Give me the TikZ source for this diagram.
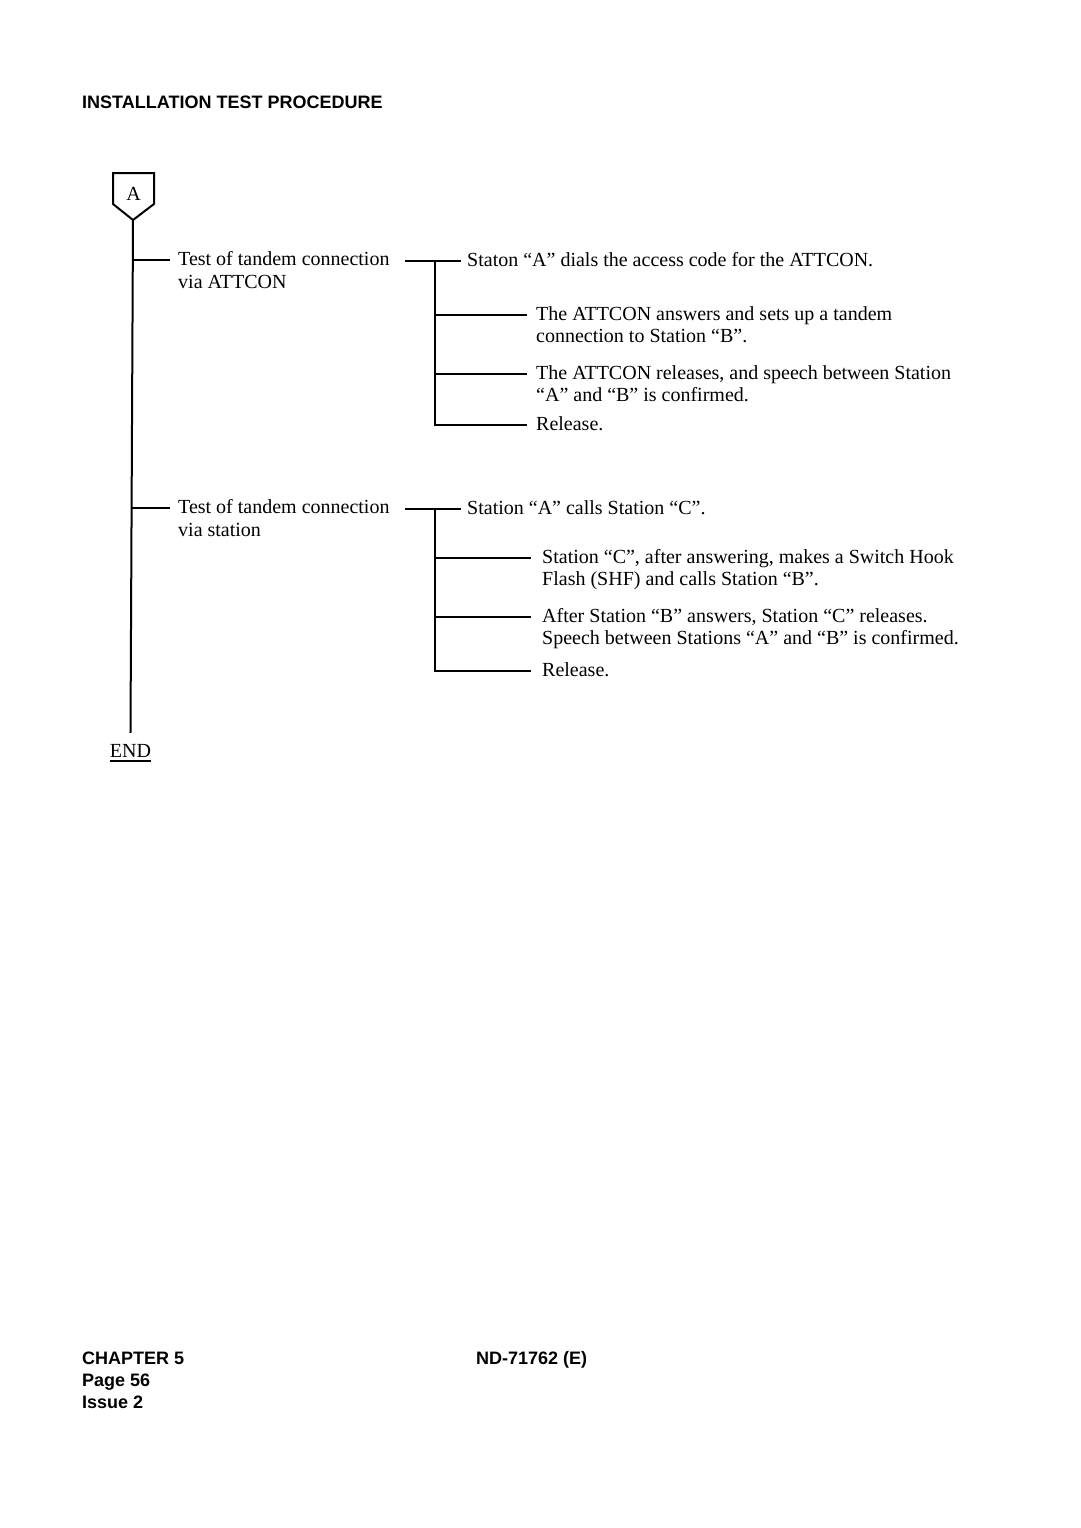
\documentclass[tikz,border=0pt]{standalone}
\usepackage{fontspec}
\setmainfont{Liberation Serif}
\newfontfamily\headfont{Liberation Sans}
\begin{document}
\begin{tikzpicture}[x=1pt,y=-1pt,
  conn/.style={line width=2pt, line cap=rect},
  txt/.style={inner ysep=0pt, inner xsep=0pt, text height=14pt, text depth=3pt, font=\fontsize{20}{23}\selectfont},
  hd/.style={inner sep=0pt, anchor=base west, font=\headfont\bfseries\fontsize{18}{21}\selectfont}]
\useasboundingbox (0,0) rectangle (1080,1528);
% header and footer
\node[hd] (title) at (82,108) {INSTALLATION TEST PROCEDURE};
\node[hd] (chap) at (82,1364) {CHAPTER 5};
\node[hd] (page) at (82,1386) {Page 56};
\node[hd] (issue) at (82,1408) {Issue 2};
\node[hd] (docno) at (476,1364) {ND-71762 (E)};
% start marker
\draw[line width=2pt, line join=miter] (113,173) -- (154,173) -- (154,204) -- (133,220) -- (113,204) -- cycle;
\node[txt, anchor=base] (A) at (133.5,200) {A};
\coordinate (tip) at (133,220);
\node[txt, anchor=base] (END) at (130.5,757) {END};
\draw[line width=1.5pt] ([yshift=-4pt]END.base west) -- ([yshift=-4pt]END.base east);
\draw[conn] (tip) -- ([yshift=11pt]END.north);
% branch 1
\coordinate (m1) at (133,260);
\node[txt, anchor=west, inner xsep=9pt] (L1) at (169,260) {Test of tandem connection};
\node[txt, anchor=base west] (L1b) at ([yshift=-23pt]L1.base west) {\hspace*{9pt}via ATTCON};
\draw[conn] (m1) -- (L1.west);
\coordinate (c1) at (406,261);
\coordinate (j1) at (435,261);
\node[txt, anchor=west, inner xsep=7pt] (r1) at (460,261) {Staton “A” dials the access code for the ATTCON.};
\draw[conn] (c1) -- (r1.west);
\node[txt, anchor=west, inner xsep=10pt] (r2) at (526,315) {The ATTCON answers and sets up a tandem};
\node[txt, anchor=base west] (r2b) at ([yshift=-22pt]r2.base west) {\hspace*{10pt}connection to Station “B”.};
\node[txt, anchor=west, inner xsep=10pt] (r3) at (526,374) {The ATTCON releases, and speech between Station};
\node[txt, anchor=base west] (r3b) at ([yshift=-22pt]r3.base west) {\hspace*{10pt}“A” and “B” is confirmed.};
\node[txt, anchor=west, inner xsep=10pt] (r4) at (526,425) {Release.};
\draw[conn] (j1) |- (r4.west);
\draw[conn] (j1 |- r2.west) -- (r2.west);
\draw[conn] (j1 |- r3.west) -- (r3.west);
% branch 2
\coordinate (m2) at (133,508);
\node[txt, anchor=west, inner xsep=9pt] (L2) at (169,508) {Test of tandem connection};
\node[txt, anchor=base west] (L2b) at ([yshift=-23pt]L2.base west) {\hspace*{9pt}via station};
\draw[conn] (m2) -- (L2.west);
\coordinate (c2) at (406,509);
\coordinate (j2) at (435,509);
\node[txt, anchor=west, inner xsep=7pt] (s1) at (460,509) {Station “A” calls Station “C”.};
\draw[conn] (c2) -- (s1.west);
\node[txt, anchor=west, inner xsep=12pt] (s2) at (530,558) {Station “C”, after answering, makes a Switch Hook};
\node[txt, anchor=base west] (s2b) at ([yshift=-22pt]s2.base west) {\hspace*{12pt}Flash (SHF) and calls Station “B”.};
\node[txt, anchor=west, inner xsep=12pt] (s3) at (530,617) {After Station “B” answers, Station “C” releases.};
\node[txt, anchor=base west] (s3b) at ([yshift=-22pt]s3.base west) {\hspace*{12pt}Speech between Stations “A” and “B” is confirmed.};
\node[txt, anchor=west, inner xsep=12pt] (s4) at (530,671) {Release.};
\draw[conn] (j2) |- (s4.west);
\draw[conn] (j2 |- s2.west) -- (s2.west);
\draw[conn] (j2 |- s3.west) -- (s3.west);
\end{tikzpicture}
\end{document}
